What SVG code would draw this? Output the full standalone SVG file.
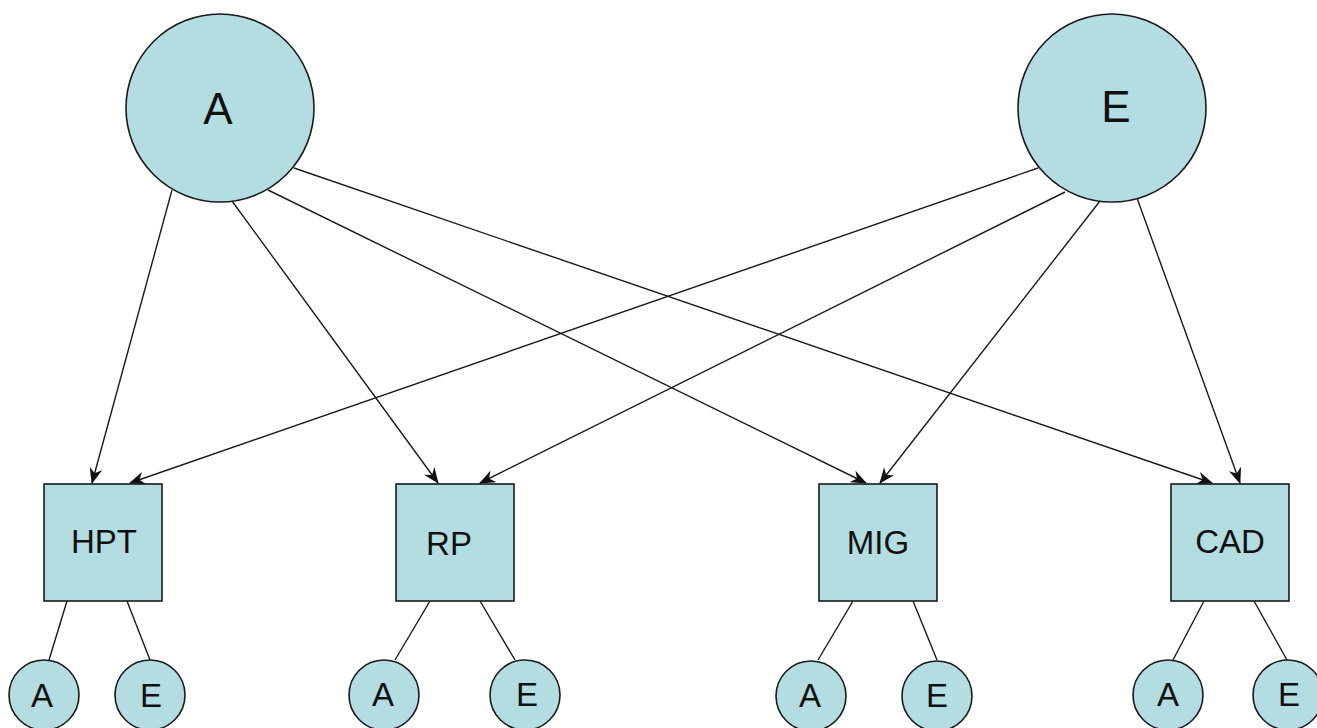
<svg xmlns="http://www.w3.org/2000/svg" width="1317" height="728" viewBox="0 0 1317 728">
<style>
.n{fill:#b4dde1;stroke:#1a1a1a;stroke-width:1.6}
.t{font-family:"Liberation Sans",Arial,sans-serif;fill:#111;text-anchor:middle}
.big{font-size:44px}
.mid{font-size:33px}
.c line{stroke:#1a1a1a;stroke-width:1.4}
.a{marker-end:url(#ah)}
</style>
<defs>
<marker id="ah" markerWidth="16" markerHeight="13" refX="15" refY="6.5" orient="auto" markerUnits="userSpaceOnUse">
<path d="M0,0 L16,6.5 L0,13 L5,6.5 z" fill="#111"/>
</marker>
</defs>
<rect width="1317" height="728" fill="#fff"/>
<g id="connectors" class="c">
<line class="a" x1="172" y1="190" x2="92" y2="483"/>
<line class="a" x1="232" y1="201" x2="438" y2="483"/>
<line class="a" x1="268" y1="190" x2="866" y2="483"/>
<line class="a" x1="294" y1="168" x2="1212" y2="483"/>
<line class="a" x1="1038" y1="168" x2="130" y2="483"/>
<line class="a" x1="1065" y1="192" x2="480" y2="483"/>
<line class="a" x1="1100" y1="201" x2="880" y2="483"/>
<line class="a" x1="1137" y1="198" x2="1240" y2="483"/>
<line x1="67" y1="601" x2="49" y2="660"/>
<line x1="127" y1="601" x2="150" y2="660"/>
<line x1="430" y1="601" x2="395" y2="660"/>
<line x1="480" y1="601" x2="515" y2="660"/>
<line x1="853" y1="601" x2="818" y2="660"/>
<line x1="913" y1="601" x2="937" y2="660"/>
<line x1="1204" y1="601" x2="1173" y2="660"/>
<line x1="1254" y1="601" x2="1287" y2="660"/>
</g>
<g id="A"><circle class="n" cx="220" cy="108" r="94"/><text class="t big" x="218" y="124">A</text></g>
<g id="E"><circle class="n" cx="1112" cy="108" r="94"/><text class="t big" x="1116" y="122">E</text></g>
<g id="HPT"><rect class="n" x="44" y="484" width="118" height="117"/><text class="t mid" x="104" y="553">HPT</text></g>
<g id="RP"><rect class="n" x="396" y="484" width="118" height="117"/><text class="t mid" x="449" y="555">RP</text></g>
<g id="MIG"><rect class="n" x="819" y="484" width="118" height="117"/><text class="t mid" x="878" y="554">MIG</text></g>
<g id="CAD"><rect class="n" x="1171" y="484" width="118" height="117"/><text class="t mid" x="1230" y="553">CAD</text></g>
<g id="HPT_A"><circle class="n" cx="44" cy="695" r="35"/><text class="t mid" x="42" y="707">A</text></g>
<g id="HPT_E"><circle class="n" cx="150" cy="695" r="35"/><text class="t mid" x="151" y="707">E</text></g>
<g id="RP_A"><circle class="n" cx="384" cy="695" r="35"/><text class="t mid" x="383" y="706">A</text></g>
<g id="RP_E"><circle class="n" cx="525" cy="695" r="35"/><text class="t mid" x="527" y="706">E</text></g>
<g id="MIG_A"><circle class="n" cx="811" cy="696" r="35"/><text class="t mid" x="810" y="707">A</text></g>
<g id="MIG_E"><circle class="n" cx="937" cy="696" r="35"/><text class="t mid" x="937" y="707">E</text></g>
<g id="CAD_A"><circle class="n" cx="1168" cy="695" r="35"/><text class="t mid" x="1168" y="706">A</text></g>
<g id="CAD_E"><circle class="n" cx="1288" cy="695" r="35"/><text class="t mid" x="1289" y="706">E</text></g>
</svg>
